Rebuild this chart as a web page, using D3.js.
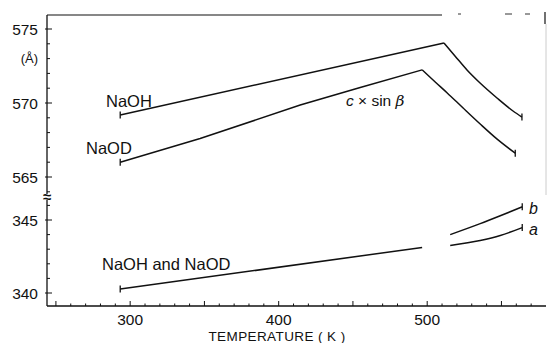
<!DOCTYPE html>
<html><head><meta charset="utf-8">
<script src="https://cdn.jsdelivr.net/npm/d3@7"></script>
<style>
body{margin:0;background:#fff;}
svg{display:block;font-family:"Liberation Sans",Arial,sans-serif;}
text{fill:#111;}
</style></head>
<body><svg id="c" width="547" height="343"></svg>
<script>
// Data (temperature K, lattice value Å)
const naohUpT   = [293.3, 511.3];
const naohUpV   = [569.19, 574.05];
const naohDnT   = [511.3, 518.7, 526.8, 535.6, 547.0, 557.8, 563.8];
const naohDnV   = [574.05, 573.18, 572.23, 571.35, 570.34, 569.46, 569.05];
const naodUpT   = [293.3, 347.1, 414.5, 454.9, 496.6];
const naodUpV   = [566.0, 567.6, 569.86, 571.05, 572.24];
const naodDnT   = [496.6, 505.4, 513.5, 524.2, 535.7, 547.1, 559.3];
const naodDnV   = [572.24, 571.42, 570.68, 569.66, 568.58, 567.56, 566.61];
const bothT   = [293.3, 496.6];
const bothV   = [340.27, 343.12];
const bT      = [515.5, 535.7, 549.2, 564.0];
const bV      = [344.0, 344.75, 345.29, 345.9];
const aT      = [515.5, 535.7, 549.2, 564.0];
const aV      = [343.26, 343.6, 343.94, 344.48];
const xTickLabels = [300, 400, 500];
const yTopLabels = [575, 570, 565];
const yBotLabels = [345, 340];

const svg = d3.select("#c");
const x = d3.scaleLinear().domain([244, 580]).range([47, 546]);
const yTop = d3.scaleLinear().domain([565, 575]).range([177, 29]);
const yBot = d3.scaleLinear().domain([340, 345]).range([293, 220]);
const X0 = 47, XAXIS_Y = 306, TOP_Y = 15, BREAK_Y = 197;

const ink = "#111";

// X axis
const xAxisG = svg.append("g").attr("transform", `translate(0,${XAXIS_Y})`);
xAxisG.append("line").attr("x1", X0).attr("x2", 546).attr("stroke", ink).attr("stroke-width", 1.3);
const xMinor = d3.range(250, 580, 10);
xAxisG.selectAll("line.t").data(xMinor).join("line").attr("class","t")
  .attr("x1", d => x(d)).attr("x2", d => x(d))
  .attr("y1", 0).attr("y2", d => d % 50 === 0 ? -5 : -2.5)
  .attr("stroke", ink).attr("stroke-width", 1);
svg.selectAll("text.xl").data(xTickLabels).join("text").attr("class","xl")
  .attr("x", d => x(d)).attr("y", 325).attr("text-anchor","middle")
  .attr("font-size", 15.5).text(d => d);
svg.append("text").attr("x", 277).attr("y", 341).attr("text-anchor","middle")
  .attr("font-size", 13.5).attr("letter-spacing", 0.4).text("TEMPERATURE ( K )");

// Y axes
svg.append("line").attr("x1", X0).attr("x2", X0).attr("y1", TOP_Y).attr("y2", BREAK_Y - 3).attr("stroke", ink).attr("stroke-width", 1.3);
svg.append("line").attr("x1", X0).attr("x2", X0).attr("y1", BREAK_Y + 3).attr("y2", XAXIS_Y).attr("stroke", ink).attr("stroke-width", 1.3);
const topMinor = d3.range(564, 577, 1);
svg.selectAll("line.yt").data(topMinor.filter(v => yTop(v) > TOP_Y + 2 && yTop(v) < BREAK_Y - 4)).join("line").attr("class","yt")
  .attr("x1", d => X0 - (d % 5 === 0 ? 2 : 0)).attr("x2", d => X0 + (d % 5 === 0 ? 5 : 3))
  .attr("y1", d => yTop(d)).attr("y2", d => yTop(d)).attr("stroke", ink);
const botMinor = d3.range(340, 347, 1);
svg.selectAll("line.yb").data(botMinor.filter(v => yBot(v) > BREAK_Y + 4)).join("line").attr("class","yb")
  .attr("x1", d => X0 - (d % 5 === 0 ? 2 : 0)).attr("x2", d => X0 + (d % 5 === 0 ? 5 : 3))
  .attr("y1", d => yBot(d)).attr("y2", d => yBot(d)).attr("stroke", ink);
svg.selectAll("text.yl").data(yTopLabels).join("text").attr("class","yl")
  .attr("x", 38).attr("y", d => yTop(d) + 6).attr("text-anchor","end").attr("font-size", 15.5).text(d => d);
svg.selectAll("text.yl2").data(yBotLabels).join("text").attr("class","yl2")
  .attr("x", 38).attr("y", d => yBot(d) + 6).attr("text-anchor","end").attr("font-size", 15.5).text(d => d);
svg.append("text").attr("x", 38).attr("y", 63).attr("text-anchor","end").attr("font-size", 13).text("(Å)");
// break mark
svg.append("text").attr("x", X0).attr("y", BREAK_Y + 5).attr("text-anchor","middle").attr("font-size", 15).attr("font-weight","bold").text("≈");

// top & right frame (partial, as in the scan)
svg.append("line").attr("x1", X0).attr("x2", 442).attr("y1", TOP_Y).attr("y2", TOP_Y).attr("stroke", ink).attr("stroke-width", 1.2);
[[458,461],[505,512],[525,530]].forEach(s => svg.append("line").attr("x1", s[0]).attr("x2", s[1]).attr("y1", TOP_Y - 1).attr("y2", TOP_Y - 1).attr("stroke", "#333").attr("stroke-width", 1));
svg.append("line").attr("x1", 545).attr("x2", 545).attr("y1", 12).attr("y2", 24).attr("stroke", ink).attr("stroke-width", 1.2);
svg.append("line").attr("x1", 546).attr("x2", 546).attr("y1", 24).attr("y2", 195).attr("stroke", "#ccc").attr("stroke-width", 1);

// curves
function drawCurve(T, V, ys, curve) {
  const pts = T.map((t, i) => [x(t), ys(V[i])]);
  const line = d3.line().curve(curve || d3.curveLinear);
  svg.append("path").attr("d", line(pts)).attr("fill","none").attr("stroke", ink)
    .attr("stroke-width", 1.5).attr("stroke-linejoin","miter");
  return pts;
}
function cap(p) {
  svg.append("line").attr("x1", p[0]).attr("x2", p[0]).attr("y1", p[1] - 3.5).attr("y2", p[1] + 3.5).attr("stroke", ink).attr("stroke-width", 1.3);
}
let p;
p = drawCurve(naohUpT, naohUpV, yTop); cap(p[0]);
p = drawCurve(naohDnT, naohDnV, yTop, d3.curveMonotoneX); cap(p[p.length-1]);
p = drawCurve(naodUpT, naodUpV, yTop); cap(p[0]);
p = drawCurve(naodDnT, naodDnV, yTop, d3.curveMonotoneX); cap(p[p.length-1]);
p = drawCurve(bothT, bothV, yBot); cap(p[0]);
p = drawCurve(bT, bV, yBot, d3.curveMonotoneX); cap(p[p.length-1]);
p = drawCurve(aT, aV, yBot, d3.curveMonotoneX); cap(p[p.length-1]);

// labels
svg.append("text").attr("x", 106).attr("y", 107).attr("font-size", 16.5).text("NaOH");
svg.append("text").attr("x", 86).attr("y", 154).attr("font-size", 16.5).text("NaOD");
svg.append("text").attr("x", 102).attr("y", 270).attr("font-size", 16.5).text("NaOH and NaOD");
const cs = svg.append("text").attr("x", 346).attr("y", 106).attr("font-size", 15.5);
cs.append("tspan").attr("font-style","italic").text("c");
cs.append("tspan").text(" × sin ");
cs.append("tspan").attr("font-style","italic").attr("font-family","DejaVu Serif, serif").text("β");
svg.append("text").attr("x", 529).attr("y", 214).attr("font-size", 16).attr("font-style","italic").text("b");
svg.append("text").attr("x", 529).attr("y", 235).attr("font-size", 16).attr("font-style","italic").text("a");
</script></body></html>
